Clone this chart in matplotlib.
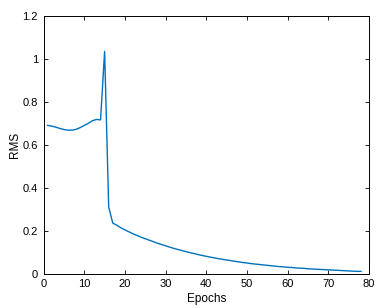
import matplotlib
matplotlib.use("Agg")
import matplotlib.pyplot as plt

epochs = list(range(1, 79))
rms = [0.690, 0.687, 0.682, 0.676, 0.671, 0.668, 0.668, 0.672, 0.680, 0.690,
       0.700, 0.712, 0.718, 0.716, 1.035, 0.310, 0.235, 0.225, 0.213, 0.203,
       0.194, 0.185, 0.177, 0.169, 0.162, 0.155, 0.148, 0.141, 0.135, 0.129,
       0.123, 0.117, 0.112, 0.107, 0.102, 0.097, 0.093, 0.088, 0.084, 0.080,
       0.076, 0.073, 0.069, 0.066, 0.063, 0.060, 0.057, 0.054, 0.051, 0.049,
       0.046, 0.044, 0.042, 0.040, 0.038, 0.036, 0.034, 0.032, 0.031, 0.029,
       0.028, 0.026, 0.025, 0.024, 0.022, 0.021, 0.020, 0.019, 0.018, 0.017,
       0.016, 0.015, 0.014, 0.013, 0.012, 0.011, 0.010, 0.010]
xticks = [0, 10, 20, 30, 40, 50, 60, 70, 80]
yticks = [0, 0.2, 0.4, 0.6, 0.8, 1.0, 1.2]
ytick_labels = ["0", "0.2", "0.4", "0.6", "0.8", "1", "1.2"]

plt.rcParams['font.family'] = ['Liberation Sans', 'DejaVu Sans']
fig = plt.figure(figsize=(3.89, 3.08), dpi=100)
ax = fig.add_axes([0.112, 0.112, 0.837, 0.836])
ax.plot(epochs, rms, color='#0072BD', linewidth=1.0)
ax.set_xlim(0, 80)
ax.set_ylim(0, 1.2)
ax.set_xticks(xticks)
ax.set_yticks(yticks)
ax.set_yticklabels(ytick_labels)
ax.tick_params(direction='in', top=True, right=True, labelsize=8, length=3, width=0.6, pad=4)
for s in ax.spines.values():
    s.set_linewidth(0.7)
ax.set_xlabel('Epochs', fontsize=8.5, labelpad=3)
ax.set_ylabel('RMS', fontsize=8.5, labelpad=1)
fig.savefig('out.png', dpi=100)
